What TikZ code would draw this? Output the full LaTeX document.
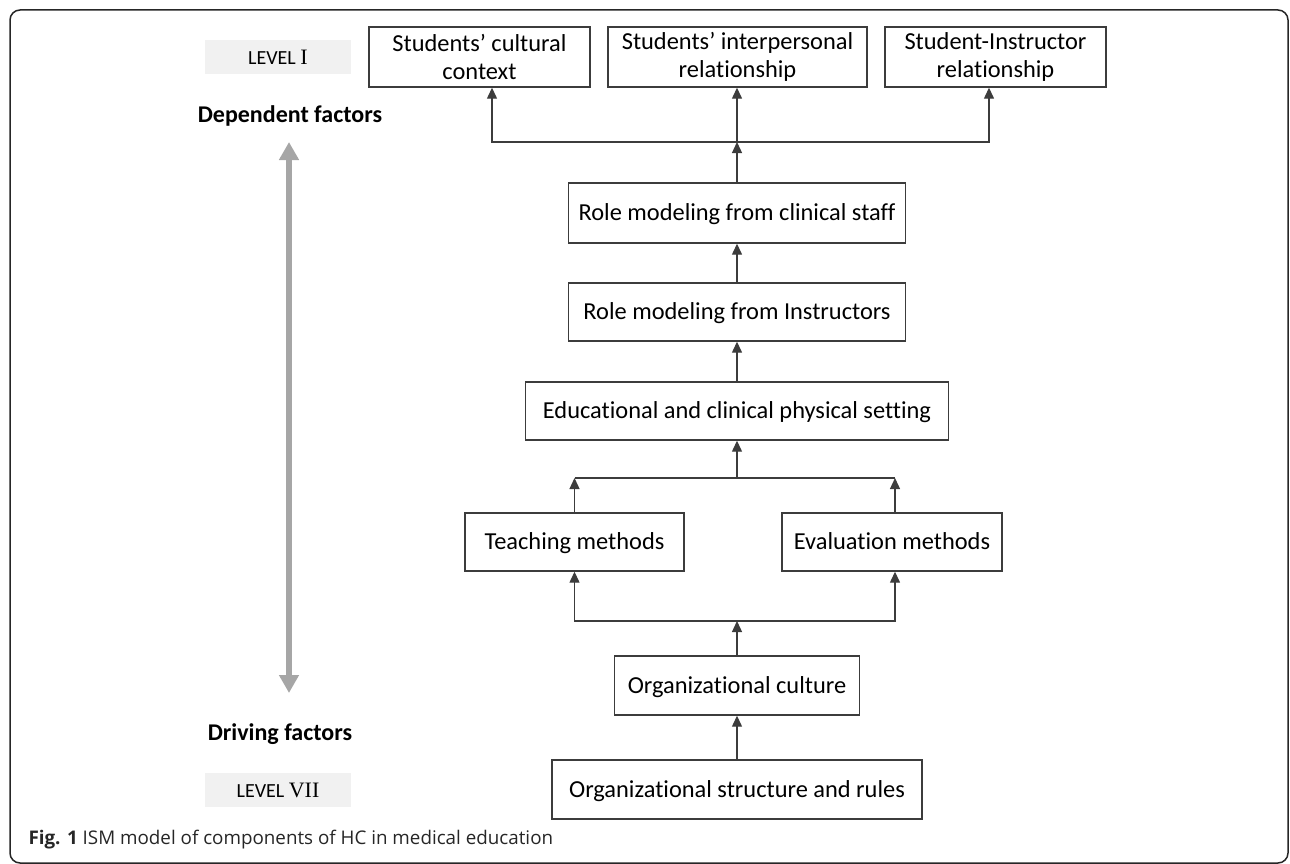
\documentclass[tikz,border=0pt]{standalone}
\usepackage{fontspec}
\setmainfont{Carlito}[Ligatures=NoCommon]
\newfontfamily\romnum{Liberation Serif}
\newfontfamily\capfont{Open Sans}
\usetikzlibrary{arrows.meta}
\definecolor{boxline}{RGB}{60,60,60}
\definecolor{levelgray}{RGB}{241,241,241}
\definecolor{sidegray}{RGB}{166,166,166}

\tikzset{
  factor/.style={draw=boxline, line width=1.4pt, align=center, inner sep=0pt,
    minimum height=58pt, font=\fontsize{24.4}{28.7}\selectfont},
  oneline/.style={factor, text height=18pt, text depth=2.4pt},
  link/.style={draw=boxline, line width=1.3pt},
  up/.style={link, -{Triangle[length=11pt,width=10pt]}},
  levelbox/.style={fill=levelgray, minimum width=146pt, minimum height=34pt,
    inner sep=0pt, font=\fontsize{20}{24}\selectfont},
  sidelabel/.style={font=\fontsize{24}{28}\selectfont\bfseries, anchor=base}
}

\begin{document}
\begin{tikzpicture}[x=10pt, y=-10pt]
    \useasboundingbox (0,0) rectangle (129,86.4);
    % Outer frame
    \draw[line width=1.5pt, black!85, rounded corners=10pt] (1,1) rectangle (128.8,86.3);

    % Level I
    \node[factor, minimum width=221pt, minimum height=60pt] (cultural) at (47.95,5.7) {Students’ cultural\\context};
    \node[factor, minimum width=259pt, minimum height=60pt] (interpers) at (73.75,5.7) {Students’ interpersonal\\relationship};
    \node[factor, minimum width=221pt, minimum height=60pt] (instrrel) at (99.55,5.7) {Student-Instructor\\relationship};

    % Middle levels
    \node[oneline, minimum width=337pt, minimum height=60pt] (clinstaff) at (73.7,21.3) {Role modeling from clinical staff};
    \node[oneline, minimum width=337pt] (instructors) at (73.7,31.2) {Role modeling from Instructors};
    \node[oneline, minimum width=423pt] (setting) at (73.7,41.1) {Educational and clinical physical setting};
    \node[oneline, minimum width=219pt] (teaching) at (57.45,54.2) {Teaching methods};
    \node[oneline, minimum width=220pt] (evaluation) at (89.2,54.2) {Evaluation methods};

    % Level VII
    \node[oneline, minimum width=245pt, minimum height=59pt] (culture) at (73.7,68.55) {Organizational culture};
    \node[oneline, minimum width=370pt, minimum height=59pt] (structure) at (73.7,78.95) {Organizational structure and rules};

    % Branch points
    \coordinate (topjoin) at (73.7,14.2);
    \coordinate (midjoin) at (73.7,47.8);
    \coordinate (lowjoin) at (73.7,62.1);

    % Links
    \draw[up] (clinstaff.north) -- (topjoin);
    \draw[up] (topjoin) -| ([xshift=12.5pt]cultural.south);
    \draw[up] (topjoin) -- (topjoin |- interpers.south);
    \draw[up] (topjoin) -| ([xshift=-6.5pt]instrrel.south);
    \draw[up] (instructors) -- (clinstaff);
    \draw[up] (setting) -- (instructors);
    \draw[up] (midjoin) -- (setting.south);
    \draw[link] (teaching.north |- midjoin) -- ([xshift=3pt]evaluation.north |- midjoin);
    \draw[up] (teaching.north) -- (teaching.north |- midjoin);
    \draw[up] ([xshift=3pt]evaluation.north) -- ([xshift=3pt]evaluation.north |- midjoin);
    \draw[up] (culture.north) -- (lowjoin);
    \draw[up] (lowjoin) -| (teaching.south);
    \draw[up] (lowjoin) -| ([xshift=3pt]evaluation.south);
    \draw[up] (structure) -- (culture);

    % Side scale
    \node[levelbox] (lvltop) at (27.8,5.7) {LEVEL {\romnum\fontsize{22}{24}\selectfont I}};
    \node[sidelabel] (dependent) at (29,12.3) {Dependent factors};
    \node[sidelabel] (driving) at (28,74) {Driving factors};
    \node[levelbox] (lvlbottom) at (27.8,79) {LEVEL {\romnum\fontsize{22}{24}\selectfont VII}};
    \coordinate (scaletop) at (28.9,14.2);
    \coordinate (scalebottom) at (28.9,69.3);
    \draw[sidegray, line width=6pt, {Triangle[length=18pt,width=19pt]}-{Triangle[length=18pt,width=19pt]}] (scaletop) -- (scalebottom);

    % Caption
    \node[anchor=base west, font=\capfont\fontsize{18.8}{22}\selectfont, text=black!85] (caption) at (2.5,84.4) {\textbf{Fig. 1} ISM model of components of HC in medical education};
\end{tikzpicture}
\end{document}
